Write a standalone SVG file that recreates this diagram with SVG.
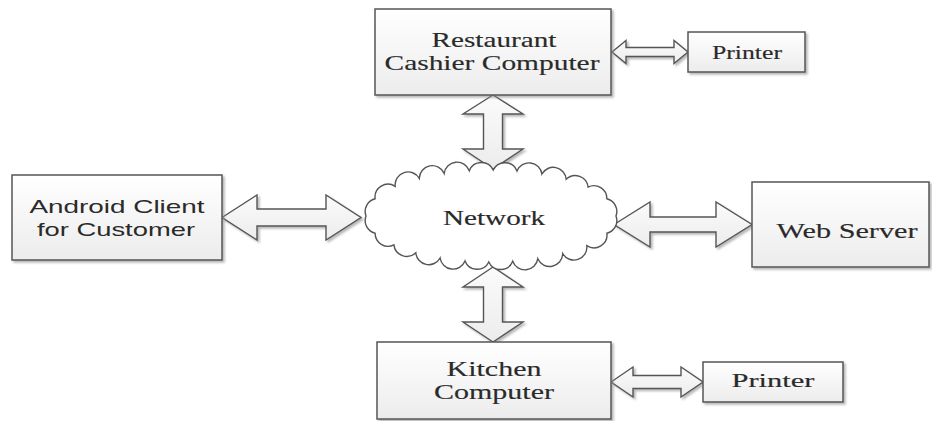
<svg xmlns="http://www.w3.org/2000/svg" width="932" height="421" viewBox="0 0 932 421">
<defs>
<linearGradient id="gbox" x1="0" y1="0" x2="0" y2="1">
<stop offset="0" stop-color="#ffffff"/>
<stop offset="1" stop-color="#ececec"/>
</linearGradient>
<linearGradient id="garr" x1="0" y1="0" x2="0" y2="1">
<stop offset="0" stop-color="#fbfbfb"/>
<stop offset="1" stop-color="#ececec"/>
</linearGradient>
<filter id="sh" x="-10%" y="-10%" width="125%" height="130%">
<feDropShadow dx="2" dy="2" stdDeviation="1.2" flood-color="#888" flood-opacity="0.6"/>
</filter>
</defs>
<style>
.box{fill:url(#gbox);stroke:#555;stroke-width:1.5;filter:url(#sh)}
.arr{fill:url(#garr);stroke:#555;stroke-width:1.4;stroke-linejoin:miter;filter:url(#sh)}
.cloud{fill:#fff;stroke:#555;stroke-width:1.4}
.t{font-family:"Liberation Serif","Times New Roman",serif;fill:#2a2a2a;stroke:#2a2a2a;stroke-width:0.15;text-anchor:middle}
.s{font-family:"Liberation Sans",Arial,sans-serif;fill:#2a2a2a;text-anchor:middle}
</style>
<rect width="932" height="421" fill="#fff"/>

<g id="connectors">
<polygon class="arr" points="612,52 626,40.5 626,47.5 674,47.5 674,40.5 688,52 674,63.5 674,56.5 626,56.5 626,63.5"/>
<polygon class="arr" points="222,217.5 257,195 257,209 326,209 326,195 361,217.5 326,240 326,226 257,226 257,240"/>
<polygon class="arr" points="614,224.5 650,202 650,217 716,217 716,202 752,224.5 716,247 716,232 650,232 650,247"/>
<polygon class="arr" points="611,382 633,367 633,375.5 681,375.5 681,367 703,382 681,397 681,388.5 633,388.5 633,397"/>
<polygon class="arr" points="493,95 523,114 502.5,114 502.5,149 523,149 493,169 463,149 483.5,149 483.5,114 463,114"/>
<polygon class="arr" points="493,267 523,287 502.5,287 502.5,322 523,322 493,342 463,322 483.5,322 483.5,287 463,287"/>
</g>

<g id="network">
<path class="cloud" d="M616,216 A13,13 0 0 1 606.9,233.2 A13,13 0 0 1 586.8,245.6 A13,13 0 0 1 562.7,253.7 A13,13 0 0 1 537.8,258.7 A13,13 0 0 1 512.7,261.3 A13,13 0 0 1 488.8,262 A13,13 0 0 1 465,261 A13,13 0 0 1 440.1,258 A13,13 0 0 1 415.8,252.8 A13,13 0 0 1 393.9,244.9 A13,13 0 0 1 375.1,233.2 A13,13 0 0 1 366,216 A13,13 0 0 1 375.1,198.8 A13,13 0 0 1 395.2,186.4 A13,13 0 0 1 419.3,178.3 A13,13 0 0 1 444.2,173.4 A13,13 0 0 1 469.3,170.7 A13,13 0 0 1 493.2,170 A13,13 0 0 1 517,171 A13,13 0 0 1 541.9,174 A13,13 0 0 1 566.2,179.2 A13,13 0 0 1 588.1,187.1 A13,13 0 0 1 606.9,198.8 A13,13 0 0 1 616,216 Z"/>
<text class="t" x="494" y="225" font-size="20" textLength="102" lengthAdjust="spacingAndGlyphs">Network</text>
</g>

<g id="cashier">
<rect class="box" x="375" y="9" width="236" height="86"/>
<text class="t" x="494" y="47" font-size="22" textLength="125" lengthAdjust="spacingAndGlyphs">Restaurant</text>
<text class="t" x="492" y="70" font-size="22" textLength="215" lengthAdjust="spacingAndGlyphs">Cashier Computer</text>
</g>

<g id="printer-top">
<rect class="box" x="688" y="32" width="117" height="40"/>
<text class="t" x="747" y="59" font-size="19" textLength="70" lengthAdjust="spacingAndGlyphs">Printer</text>
</g>

<g id="android">
<rect class="box" x="12" y="175" width="210" height="85"/>
<text class="s" x="117" y="213" font-size="19" textLength="175" lengthAdjust="spacingAndGlyphs">Android Client</text>
<text class="s" x="116" y="236" font-size="19" textLength="158" lengthAdjust="spacingAndGlyphs">for Customer</text>
</g>

<g id="webserver">
<rect class="box" x="752" y="182" width="177" height="85"/>
<text class="t" x="847" y="238" font-size="22" textLength="141" lengthAdjust="spacingAndGlyphs">Web Server</text>
</g>

<g id="kitchen">
<rect class="box" x="377" y="342" width="234" height="77"/>
<text class="t" x="494" y="376" font-size="21" textLength="95" lengthAdjust="spacingAndGlyphs">Kitchen</text>
<text class="t" x="494" y="399" font-size="21" textLength="120" lengthAdjust="spacingAndGlyphs">Computer</text>
</g>

<g id="printer-bottom">
<rect class="box" x="703" y="362" width="140" height="40"/>
<text class="t" x="773" y="387" font-size="19" textLength="83" lengthAdjust="spacingAndGlyphs">Printer</text>
</g>
</svg>
